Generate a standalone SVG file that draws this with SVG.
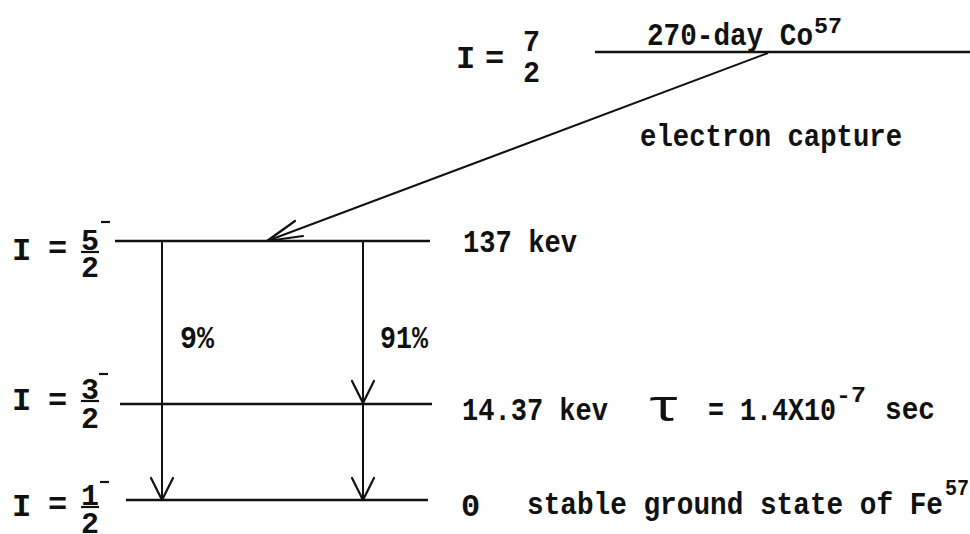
<svg xmlns="http://www.w3.org/2000/svg" width="970" height="534" viewBox="0 0 970 534">
<defs>
<style>
.t{font-family:"Liberation Mono","DejaVu Sans Mono",monospace;font-size:32px;font-weight:bold;fill:#111}
.f{font-size:30px}
.s{font-size:22px}
.lvl{stroke:#111;stroke-width:2.4;fill:none}
.ln{stroke:#111;stroke-width:2;fill:none}
.ah{stroke:#111;stroke-width:2.2;fill:none;stroke-linecap:round;stroke-linejoin:round}
.bar{stroke:#111;stroke-width:2.2}
</style>
</defs>
<rect width="970" height="534" fill="#fff"/>

<g id="level-co57">
<line class="lvl" x1="595" y1="52" x2="970" y2="52"/>
<text class="t" x="456" y="68">I</text>
<text class="t" x="485" y="68">=</text>
<text class="t f" x="523" y="51" textLength="17" lengthAdjust="spacingAndGlyphs">7</text>
<text class="t f" x="523" y="82" textLength="17" lengthAdjust="spacingAndGlyphs">2</text>
<text class="t" x="647" y="45" textLength="166" lengthAdjust="spacingAndGlyphs">270-day Co</text>
<text class="t s" x="814" y="33" textLength="28" lengthAdjust="spacingAndGlyphs">57</text>
<text class="t" x="640" y="146" textLength="262" lengthAdjust="spacingAndGlyphs">electron capture</text>
</g>

<g id="level-137">
<line class="lvl" x1="115" y1="241" x2="430" y2="241"/>
<text class="t" x="12" y="260">I</text>
<text class="t" x="48" y="258">=</text>
<text class="t f" x="81" y="250" textLength="18" lengthAdjust="spacingAndGlyphs">5</text>
<line class="bar" x1="81" y1="252" x2="99" y2="252"/>
<text class="t f" x="81" y="277" textLength="18" lengthAdjust="spacingAndGlyphs">2</text>
<line class="bar" x1="101" y1="222" x2="110" y2="222"/>
<text class="t" x="463" y="252" textLength="114" lengthAdjust="spacingAndGlyphs">137 kev</text>
</g>

<g id="level-14">
<line class="lvl" x1="120" y1="404" x2="432" y2="404"/>
<text class="t" x="12" y="410">I</text>
<text class="t" x="48" y="410">=</text>
<text class="t f" x="81" y="399" textLength="18" lengthAdjust="spacingAndGlyphs">3</text>
<line class="bar" x1="81" y1="401" x2="99" y2="401"/>
<text class="t f" x="81" y="428" textLength="18" lengthAdjust="spacingAndGlyphs">2</text>
<line class="bar" x1="99" y1="374" x2="108" y2="374"/>
<text class="t" x="462" y="420" textLength="146" lengthAdjust="spacingAndGlyphs">14.37 kev</text>
<text class="t" x="646" y="421" style="font-size:44px;font-weight:normal" textLength="36" lengthAdjust="spacingAndGlyphs">τ</text>
<text class="t" x="708" y="420" textLength="128" lengthAdjust="spacingAndGlyphs">= 1.4X10</text>
<text class="t s" x="836" y="402" textLength="30" lengthAdjust="spacingAndGlyphs">-7</text>
<text class="t" x="885" y="419" textLength="50" lengthAdjust="spacingAndGlyphs">sec</text>
</g>

<g id="level-0">
<line class="lvl" x1="126" y1="500" x2="428" y2="500"/>
<text class="t" x="12" y="516">I</text>
<text class="t" x="48" y="514">=</text>
<text class="t f" x="81" y="505" textLength="18" lengthAdjust="spacingAndGlyphs">1</text>
<line class="bar" x1="81" y1="507" x2="99" y2="507"/>
<text class="t f" x="81" y="533" textLength="18" lengthAdjust="spacingAndGlyphs">2</text>
<line class="bar" x1="100" y1="482" x2="109" y2="482"/>
<text class="t" x="461" y="516">0</text>
<text class="t" x="527" y="514" textLength="416" lengthAdjust="spacingAndGlyphs">stable ground state of Fe</text>
<text class="t s" x="945" y="495" textLength="24" lengthAdjust="spacingAndGlyphs">57</text>
</g>

<g id="connectors">
<line class="ln" x1="768" y1="53" x2="267" y2="241"/>
<polyline class="ah" points="303,236 267,241 295,221"/>
<line class="ln" x1="162" y1="241" x2="162" y2="500"/>
<polyline class="ah" points="151,478 162,500 173,478"/>
<line class="ln" x1="363" y1="241" x2="363" y2="500"/>
<polyline class="ah" points="352,381 363,403 374,381"/>
<polyline class="ah" points="352,478 363,500 374,478"/>
<text class="t" x="180" y="348" textLength="34" lengthAdjust="spacingAndGlyphs">9%</text>
<text class="t" x="380" y="348" textLength="48" lengthAdjust="spacingAndGlyphs">91%</text>
</g>
</svg>
